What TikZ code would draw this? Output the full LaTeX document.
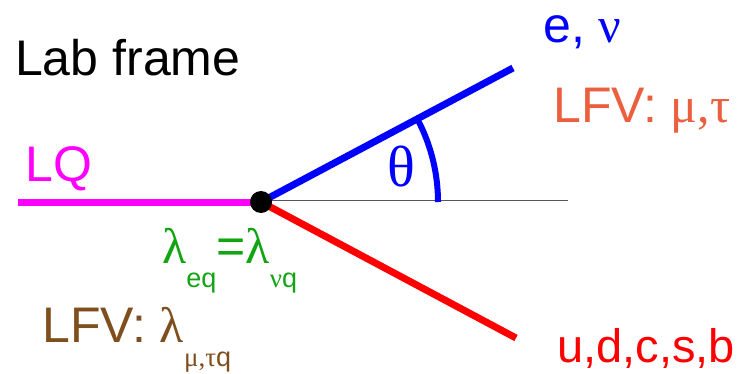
\documentclass[tikz,border=0pt]{standalone}
\usepackage{fontspec}
\setmainfont{Liberation Sans}
\newfontfamily\grk{Liberation Serif}
\usetikzlibrary{positioning}
\definecolor{lqmag}{HTML}{FF00FF}
\definecolor{lepblue}{HTML}{0000FF}
\definecolor{qred}{HTML}{FF0000}
\definecolor{lfvcoral}{HTML}{EA603E}
\definecolor{cplgreen}{HTML}{12A412}
\definecolor{lfvbrown}{HTML}{7E4E1C}
\definecolor{axisgray}{HTML}{555555}

\tikzset{
  lbl/.style={anchor=base west, inner sep=0pt, font=\fontsize{50}{60}\selectfont},
  leg/.style={line width=7pt},
}
\newcommand{\sub}[1]{\raisebox{-24pt}{\fontsize{27}{30}\selectfont #1}}

\begin{document}
\begin{tikzpicture}[x=1pt,y=1pt]
  \useasboundingbox (0,0) rectangle (746,373);

  \coordinate (v) at (261,171);
  \coordinate (lqin) at (18,171);
  \coordinate (axend) at (568,173);
  \coordinate (lepend) at (513,305);
  \coordinate (qend) at (516,35);

  \draw[axisgray, line width=1pt] ([yshift=2pt]v) -- (axend);
  \draw[leg, lqmag] (lqin) -- (v);
  \draw[leg, lepblue] (v) -- (lepend);
  \draw[leg, qred] (v) -- (qend);
  \draw[lepblue, line width=6pt] ([shift={(0:177pt)}]v) arc[start angle=0, end angle=27, radius=177pt];
  \node[circle, fill=black, inner sep=0pt, minimum size=22pt] (vtx) at (v) {};

  \node[lbl] (title) at (15,298) {Lab frame};
  \node[lbl, text=lqmag] (lq) at (25,192) {LQ};
  \node[lbl, text=lepblue] (lep) at (543,330) {e, {\grk ν}};
  \node[lbl, text=lfvcoral] (lfvlep) at (553,251) {LFV: {\grk μ,τ}};
  \node[lbl, text=lepblue, font=\fontsize{58}{60}\selectfont\grk] (theta) at (387,187) {θ};
  \node[lbl, text=cplgreen] (cpl) at (162,110) {{\grk λ}\sub{eq}={\grk λ}\sub{{\grk ν}q}};
  \node[lbl, text=lfvbrown] (lfvcpl) at (42,31) {LFV: {\grk λ}\sub{{\grk μ,τ}q}};
  \node[lbl, text=qred, font=\fontsize{47}{56}\selectfont] (quarks) at (557,11) {u,d,c,s,b};
\end{tikzpicture}
\end{document}
